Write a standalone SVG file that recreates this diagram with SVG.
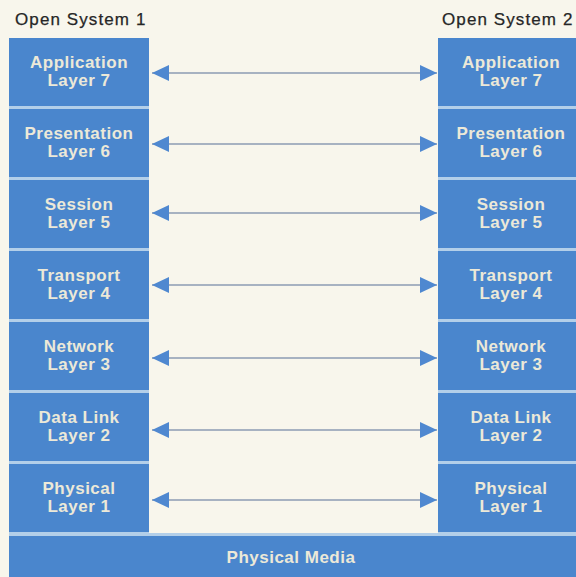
<svg xmlns="http://www.w3.org/2000/svg" width="576" height="577" viewBox="0 0 576 577">
  <style>
    .bg { fill: #f8f6ec; }
    .layer { fill: #4a86cd; }
    .gap { fill: #b3cfe9; }
    .title { font-family: "Liberation Sans", Arial, sans-serif; font-size: 17px; fill: #262626; letter-spacing: 1.1px; stroke: #262626; stroke-width: 0.25px; }
    .lbl { font-family: "Liberation Sans", Arial, sans-serif; font-weight: bold; font-size: 17px; fill: #ece9d8; text-anchor: middle; letter-spacing: 0.5px; }
    .link { stroke: #8c9bb3; stroke-width: 1.5; fill: none; }
    .head { fill: #4f88d0; }
  </style>
  <defs>
    <marker id="tip" viewBox="0 0 17 16" refX="17" refY="8" markerWidth="17" markerHeight="16" markerUnits="userSpaceOnUse" orient="auto-start-reverse">
      <path class="head" d="M0,0 L17,8 L0,16 Z"/>
    </marker>
  </defs>

  <rect class="bg" x="0" y="0" width="576" height="577"/>

  <!-- system headings -->
  <text class="title" x="15" y="25">Open System 1</text>
  <text class="title" x="442" y="25">Open System 2</text>

  <!-- light separators behind the stacks -->
  <rect class="gap" x="9" y="38" width="140" height="498"/>
  <rect class="gap" x="438" y="38" width="146" height="498"/>
  <rect class="gap" x="9" y="533" width="567" height="44"/>

  <!-- Open System 1 stack -->
  <g id="sys1-layer7"><rect class="layer" x="9" y="38" width="140" height="68"/><text class="lbl" x="79" y="68">Application</text><text class="lbl" x="79" y="86">Layer 7</text></g>
  <g id="sys1-layer6"><rect class="layer" x="9" y="109" width="140" height="68"/><text class="lbl" x="79" y="139">Presentation</text><text class="lbl" x="79" y="157">Layer 6</text></g>
  <g id="sys1-layer5"><rect class="layer" x="9" y="180" width="140" height="68"/><text class="lbl" x="79" y="210">Session</text><text class="lbl" x="79" y="228">Layer 5</text></g>
  <g id="sys1-layer4"><rect class="layer" x="9" y="251" width="140" height="68"/><text class="lbl" x="79" y="281">Transport</text><text class="lbl" x="79" y="299">Layer 4</text></g>
  <g id="sys1-layer3"><rect class="layer" x="9" y="322" width="140" height="68"/><text class="lbl" x="79" y="352">Network</text><text class="lbl" x="79" y="370">Layer 3</text></g>
  <g id="sys1-layer2"><rect class="layer" x="9" y="393" width="140" height="68"/><text class="lbl" x="79" y="423">Data Link</text><text class="lbl" x="79" y="441">Layer 2</text></g>
  <g id="sys1-layer1"><rect class="layer" x="9" y="464" width="140" height="68"/><text class="lbl" x="79" y="494">Physical</text><text class="lbl" x="79" y="512">Layer 1</text></g>

  <!-- Open System 2 stack -->
  <g id="sys2-layer7"><rect class="layer" x="438" y="38" width="146" height="68"/><text class="lbl" x="511" y="68">Application</text><text class="lbl" x="511" y="86">Layer 7</text></g>
  <g id="sys2-layer6"><rect class="layer" x="438" y="109" width="146" height="68"/><text class="lbl" x="511" y="139">Presentation</text><text class="lbl" x="511" y="157">Layer 6</text></g>
  <g id="sys2-layer5"><rect class="layer" x="438" y="180" width="146" height="68"/><text class="lbl" x="511" y="210">Session</text><text class="lbl" x="511" y="228">Layer 5</text></g>
  <g id="sys2-layer4"><rect class="layer" x="438" y="251" width="146" height="68"/><text class="lbl" x="511" y="281">Transport</text><text class="lbl" x="511" y="299">Layer 4</text></g>
  <g id="sys2-layer3"><rect class="layer" x="438" y="322" width="146" height="68"/><text class="lbl" x="511" y="352">Network</text><text class="lbl" x="511" y="370">Layer 3</text></g>
  <g id="sys2-layer2"><rect class="layer" x="438" y="393" width="146" height="68"/><text class="lbl" x="511" y="423">Data Link</text><text class="lbl" x="511" y="441">Layer 2</text></g>
  <g id="sys2-layer1"><rect class="layer" x="438" y="464" width="146" height="68"/><text class="lbl" x="511" y="494">Physical</text><text class="lbl" x="511" y="512">Layer 1</text></g>

  <!-- shared medium -->
  <g id="physical-media"><rect class="layer" x="9" y="536" width="567" height="41"/><text class="lbl" x="291" y="563">Physical Media</text></g>

  <!-- peer-to-peer connectors -->
  <g id="connectors">
    <line class="link" x1="152" y1="73" x2="437" y2="73" marker-start="url(#tip)" marker-end="url(#tip)"/>
    <line class="link" x1="152" y1="144" x2="437" y2="144" marker-start="url(#tip)" marker-end="url(#tip)"/>
    <line class="link" x1="152" y1="213" x2="437" y2="213" marker-start="url(#tip)" marker-end="url(#tip)"/>
    <line class="link" x1="152" y1="285" x2="437" y2="285" marker-start="url(#tip)" marker-end="url(#tip)"/>
    <line class="link" x1="152" y1="358" x2="437" y2="358" marker-start="url(#tip)" marker-end="url(#tip)"/>
    <line class="link" x1="152" y1="430" x2="437" y2="430" marker-start="url(#tip)" marker-end="url(#tip)"/>
    <line class="link" x1="152" y1="500" x2="437" y2="500" marker-start="url(#tip)" marker-end="url(#tip)"/>
  </g>
</svg>
